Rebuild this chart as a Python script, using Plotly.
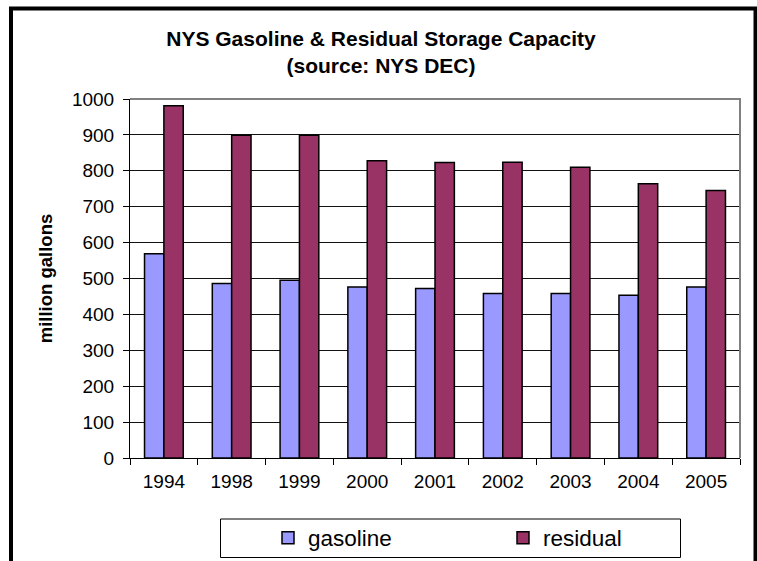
import plotly.graph_objects as go

years = ["1994", "1998", "1999", "2000", "2001", "2002", "2003", "2004", "2005"]
gasoline = [569, 486, 495, 476, 472, 458, 458, 453, 476]
residual = [981, 899, 899, 828, 823, 824, 810, 764, 745]

W, H = 757, 561
L, R, T, B = 130, 740, 99, 458  # plot area in px


def px(x):
    return (x - L) / (R - L)


def py(y):
    return (B - y) / (B - T)


fig = go.Figure()
fig.add_trace(go.Bar(name="gasoline", x=years, y=gasoline,
                     marker=dict(color="#9999FF", line=dict(color="black", width=1.5))))
fig.add_trace(go.Bar(name="residual", x=years, y=residual,
                     marker=dict(color="#993366", line=dict(color="black", width=1.5))))

font_family = "Liberation Sans, Arial, sans-serif"

fig.update_layout(
    template="none",
    width=W, height=H, autosize=False,
    margin=dict(l=L, r=W - R, t=T, b=H - B, autoexpand=False),
    paper_bgcolor="white", plot_bgcolor="white",
    barmode="group", bargap=1.5 / 3.5, bargroupgap=0,
    font=dict(family=font_family, color="black", size=19),
    title=dict(text="<b>NYS Gasoline & Residual Storage Capacity<br>(source: NYS DEC)</b>",
               x=381 / W, xanchor="center", xref="container",
               y=1 - 45.5 / H, yanchor="top", yref="container",
               font=dict(size=21, family=font_family, color="black")),
    showlegend=True,
    legend=dict(orientation="h", x=px(268), xanchor="left", y=py(538), yanchor="middle",
                entrywidth=190, entrywidthmode="pixels", bgcolor="rgba(0,0,0,0)",
                borderwidth=0, font=dict(size=22.5, family=font_family), traceorder="normal"),
    xaxis=dict(type="category", showgrid=False, showline=True, linecolor="black", linewidth=1,
               ticks="outside", ticklen=6, tickcolor="black", tickson="boundaries",
               tickfont=dict(size=19), automargin=False, ticklabelstandoff=6),
    yaxis=dict(range=[0, 1000], dtick=100, tick0=0, showgrid=True, gridcolor="#111111", gridwidth=1,
               showline=True, linecolor="black", linewidth=1, zeroline=False,
               ticks="outside", ticklen=6, tickcolor="black", tickfont=dict(size=19),
               automargin=False, ticklabelstandoff=5,
               title=dict(text="<b>million gallons</b>", standoff=14,
                          font=dict(size=18.5, family=font_family))),
    shapes=[
        # plot area border (top & right gray)
        dict(type="path", xref="paper", yref="paper",
             path="M 0,1 L 1,1 L 1,0", line=dict(color="#808080", width=2), layer="above"),
        # legend box
        dict(type="rect", xref="paper", yref="paper",
             x0=px(220.5), x1=px(680.5), y0=py(519), y1=py(557.5),
             line=dict(color="black", width=1), fillcolor="rgba(0,0,0,0)", layer="above"),
        # outer frame
        dict(type="rect", xref="paper", yref="paper",
             x0=px(11), x1=px(755.5), y0=py(8.5), y1=py(620),
             line=dict(color="black", width=4), fillcolor="rgba(0,0,0,0)", layer="above"),
    ],
)

fig.write_html("out.html", config={"displayModeBar": False},
               post_script="document.body.style.margin='0px';")
